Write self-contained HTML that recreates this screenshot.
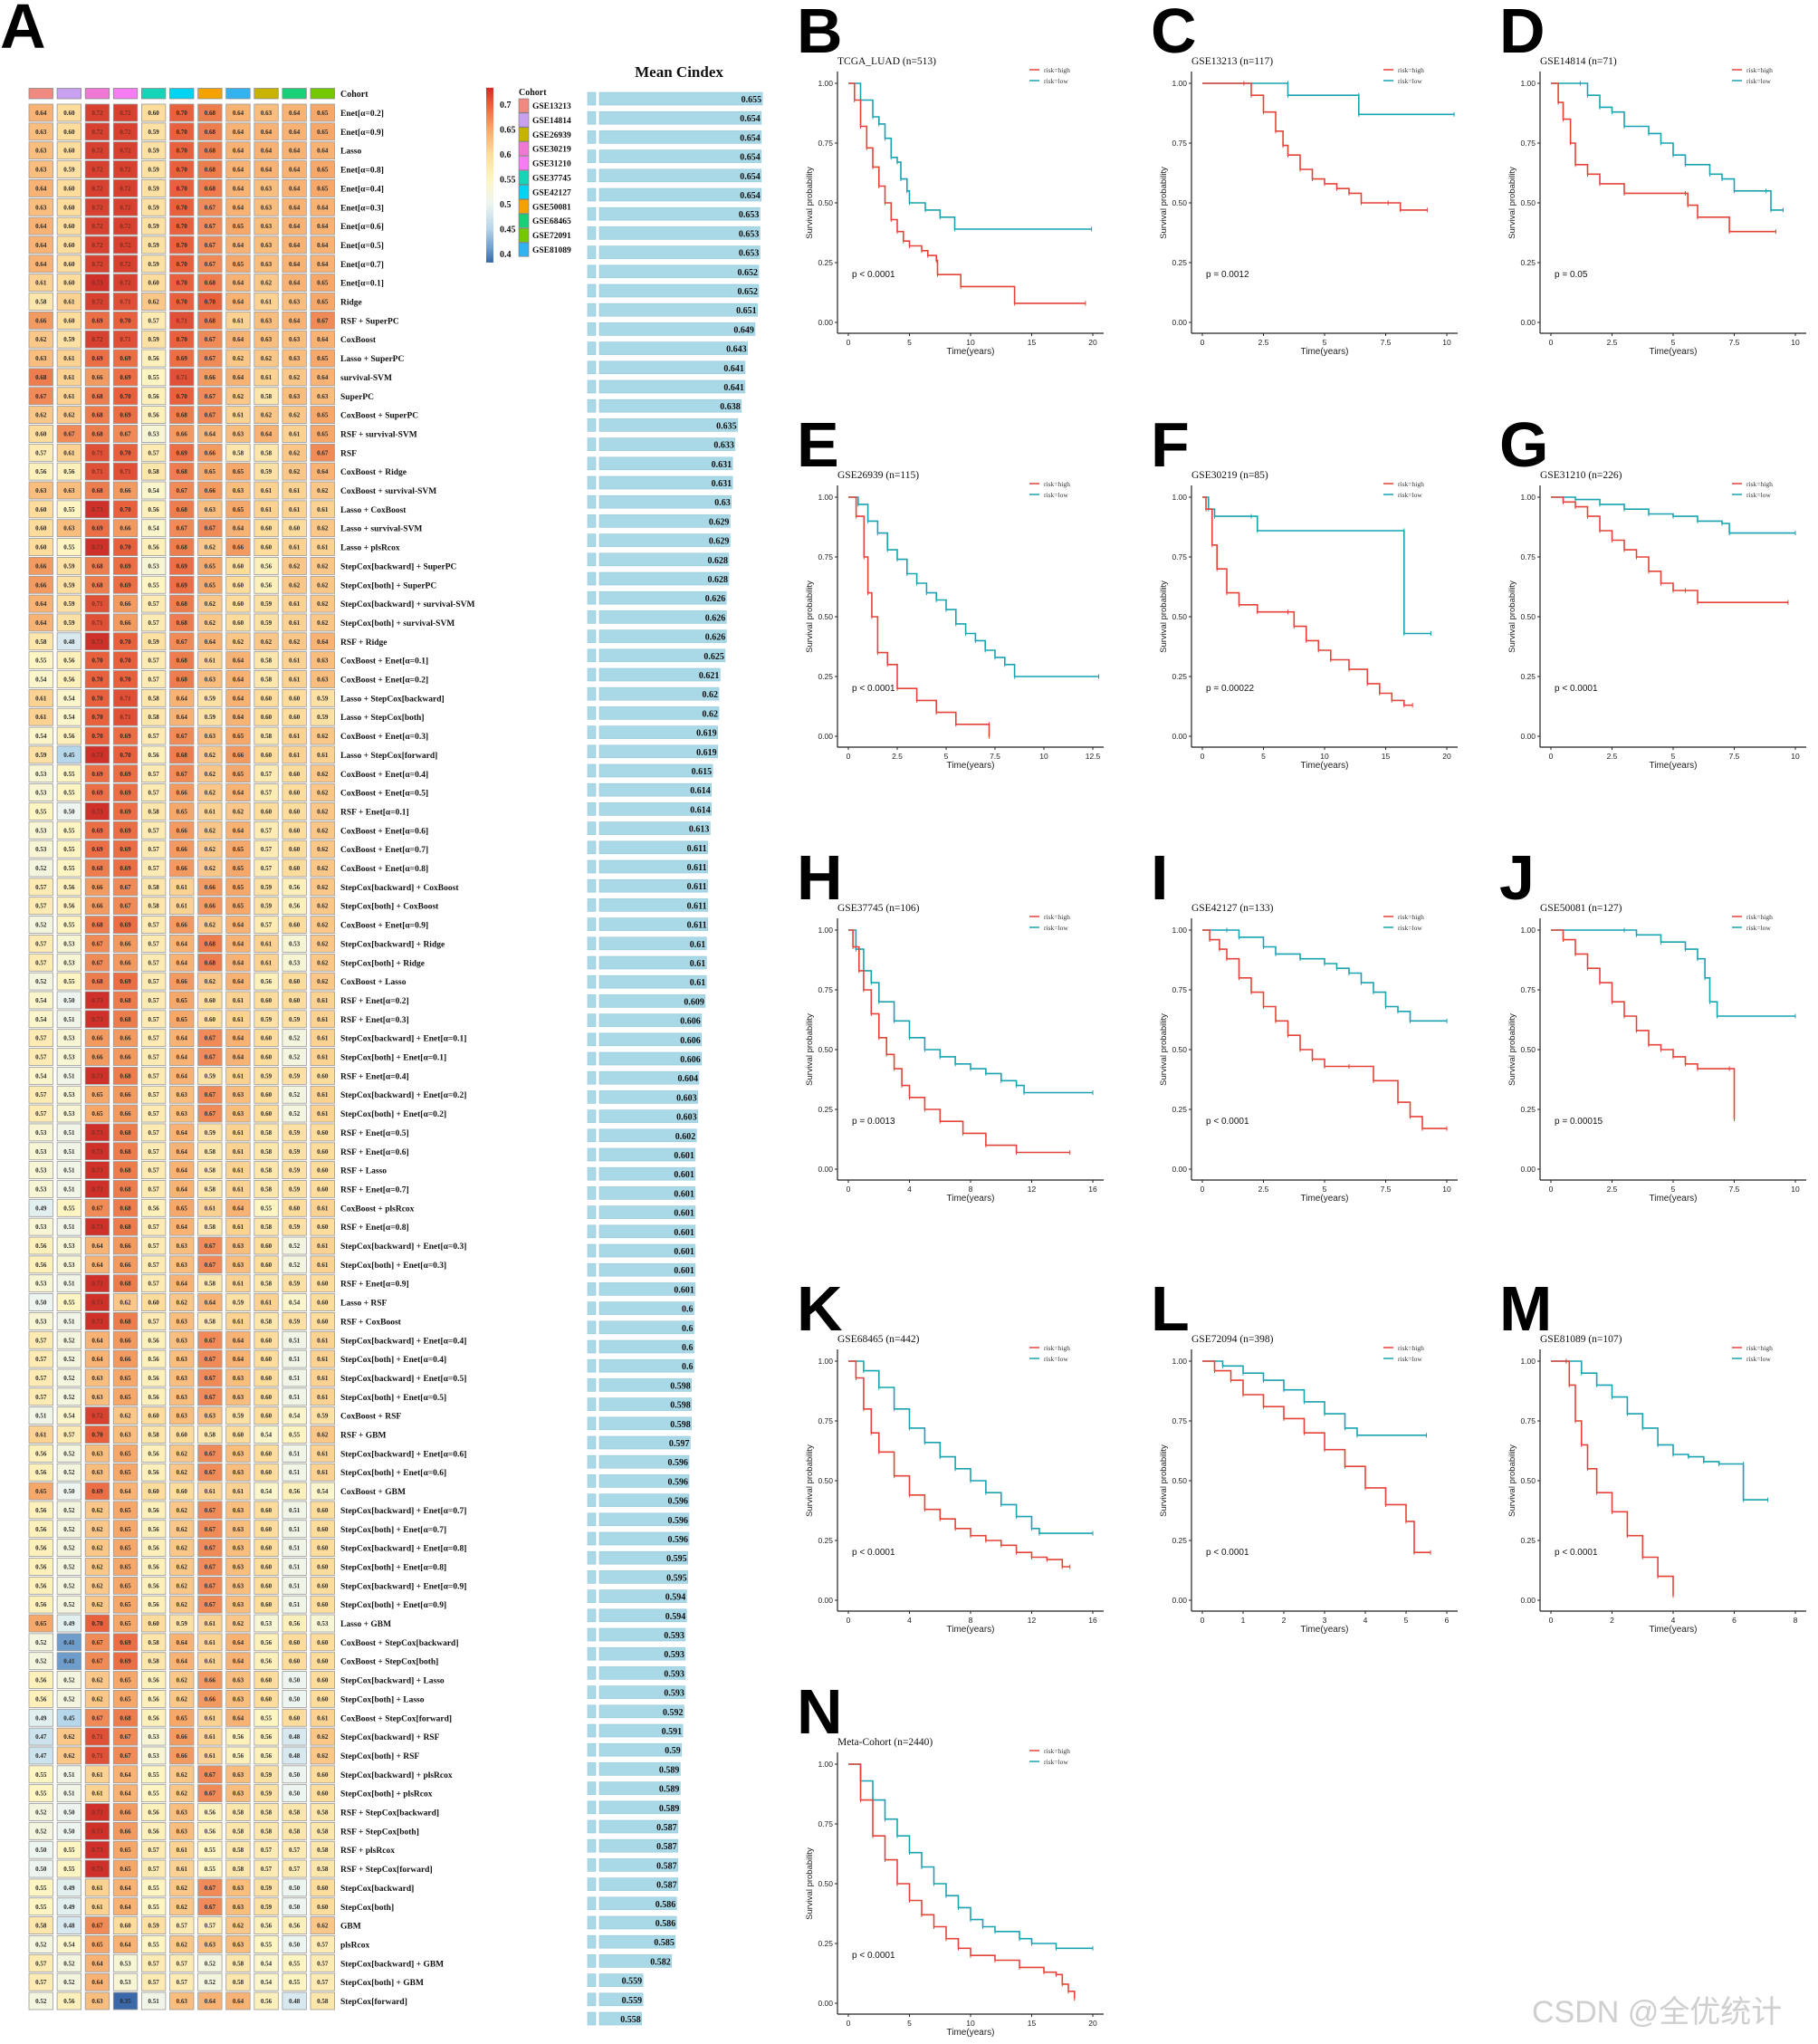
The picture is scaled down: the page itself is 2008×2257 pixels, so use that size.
<!DOCTYPE html>
<html><head><meta charset="utf-8"><title>Prognostic model figure</title>
<style>
html,body{margin:0;padding:0;background:#fff;}
svg{display:block;}
.serif{font-family:"Liberation Serif","Noto Serif CJK SC",serif;}
.sans{font-family:"Liberation Sans","Noto Sans CJK SC",sans-serif;}
</style></head>
<body>
<svg id="fig" xmlns="http://www.w3.org/2000/svg" width="2008" height="2257" viewBox="0 0 2008 2257">
<rect x="0" y="0" width="2008" height="2257" fill="#fff"/>
<text x="0" y="53" class="sans" font-size="70" font-weight="bold" fill="#000">A</text>
<text x="750" y="85" class="serif" font-size="17" font-weight="bold" text-anchor="middle" fill="#111">Mean Cindex</text>
<text x="1692" y="2233" class="sans" font-size="34" fill="#cfcfcf">CSDN @全优统计</text>
<g id="heat"></g>
<g id="legend"></g>
<g id="bars"></g>
<g id="km"></g>
</svg>
<script>
const rowLabels = ["Enet[α=0.2]","Enet[α=0.9]","Lasso","Enet[α=0.8]","Enet[α=0.4]","Enet[α=0.3]","Enet[α=0.6]","Enet[α=0.5]","Enet[α=0.7]","Enet[α=0.1]",
"Ridge","RSF + SuperPC","CoxBoost","Lasso + SuperPC","survival-SVM","SuperPC","CoxBoost + SuperPC","RSF + survival-SVM","RSF","CoxBoost + Ridge",
"CoxBoost + survival-SVM","Lasso + CoxBoost","Lasso + survival-SVM","Lasso + plsRcox","StepCox[backward] + SuperPC","StepCox[both] + SuperPC","StepCox[backward] + survival-SVM","StepCox[both] + survival-SVM","RSF + Ridge","CoxBoost + Enet[α=0.1]",
"CoxBoost + Enet[α=0.2]","Lasso + StepCox[backward]","Lasso + StepCox[both]","CoxBoost + Enet[α=0.3]","Lasso + StepCox[forward]","CoxBoost + Enet[α=0.4]","CoxBoost + Enet[α=0.5]","RSF + Enet[α=0.1]","CoxBoost + Enet[α=0.6]","CoxBoost + Enet[α=0.7]",
"CoxBoost + Enet[α=0.8]","StepCox[backward] + CoxBoost","StepCox[both] + CoxBoost","CoxBoost + Enet[α=0.9]","StepCox[backward] + Ridge","StepCox[both] + Ridge","CoxBoost + Lasso","RSF + Enet[α=0.2]","RSF + Enet[α=0.3]","StepCox[backward] + Enet[α=0.1]",
"StepCox[both] + Enet[α=0.1]","RSF + Enet[α=0.4]","StepCox[backward] + Enet[α=0.2]","StepCox[both] + Enet[α=0.2]","RSF + Enet[α=0.5]","RSF + Enet[α=0.6]","RSF + Lasso","RSF + Enet[α=0.7]","CoxBoost + plsRcox","RSF + Enet[α=0.8]",
"StepCox[backward] + Enet[α=0.3]","StepCox[both] + Enet[α=0.3]","RSF + Enet[α=0.9]","Lasso + RSF","RSF + CoxBoost","StepCox[backward] + Enet[α=0.4]","StepCox[both] + Enet[α=0.4]","StepCox[backward] + Enet[α=0.5]","StepCox[both] + Enet[α=0.5]","CoxBoost + RSF",
"RSF + GBM","StepCox[backward] + Enet[α=0.6]","StepCox[both] + Enet[α=0.6]","CoxBoost + GBM","StepCox[backward] + Enet[α=0.7]","StepCox[both] + Enet[α=0.7]","StepCox[backward] + Enet[α=0.8]","StepCox[both] + Enet[α=0.8]","StepCox[backward] + Enet[α=0.9]","StepCox[both] + Enet[α=0.9]",
"Lasso + GBM","CoxBoost + StepCox[backward]","CoxBoost + StepCox[both]","StepCox[backward] + Lasso","StepCox[both] + Lasso","CoxBoost + StepCox[forward]","StepCox[backward] + RSF","StepCox[both] + RSF","StepCox[backward] + plsRcox","StepCox[both] + plsRcox",
"RSF + StepCox[backward]","RSF + StepCox[both]","RSF + plsRcox","RSF + StepCox[forward]","StepCox[backward]","StepCox[both]","GBM","plsRcox","StepCox[backward] + GBM","StepCox[both] + GBM",
"StepCox[forward]"];
const cohortColumns = ["GSE13213","GSE14814","GSE30219","GSE31210","GSE37745","GSE42127","GSE50081","GSE81089","GSE26939","GSE68465","GSE72091"];
const cohortColumnColors = ["#f08a80","#c9a0f0","#f078d4","#f57cf2","#16d4b8","#00d4f2","#f4a200","#32b2f0","#c8b400","#18d078","#74c800"];
const legendCohorts = ["GSE13213","GSE14814","GSE26939","GSE30219","GSE31210","GSE37745","GSE42127","GSE50081","GSE68465","GSE72091","GSE81089"];
const legendColors = ["#f08a80","#c9a0f0","#c8b400","#f078d4","#f57cf2","#16d4b8","#00d4f2","#f4a200","#18d078","#74c800","#32b2f0"];
const colorbarTicks = [0.7,0.65,0.6,0.55,0.5,0.45,0.4];
const cindexMatrix = [
[.64,.60,.72,.72,.60,.70,.68,.64,.63,.64,.65],
[.63,.60,.72,.72,.59,.70,.68,.64,.64,.64,.65],
[.63,.60,.72,.72,.59,.70,.68,.64,.64,.64,.64],
[.63,.59,.72,.72,.59,.70,.68,.64,.64,.64,.65],
[.64,.60,.72,.72,.59,.70,.68,.64,.63,.64,.65],
[.63,.60,.72,.72,.59,.70,.67,.64,.63,.64,.64],
[.64,.60,.72,.72,.59,.70,.67,.65,.63,.64,.64],
[.64,.60,.72,.72,.59,.70,.67,.64,.63,.64,.64],
[.64,.60,.72,.72,.59,.70,.67,.65,.63,.64,.64],
[.61,.60,.73,.72,.60,.70,.68,.64,.62,.64,.65],
[.58,.61,.72,.71,.62,.70,.70,.64,.61,.63,.65],
[.66,.60,.69,.70,.57,.71,.68,.61,.63,.64,.67],
[.62,.59,.72,.71,.59,.70,.67,.64,.63,.63,.64],
[.63,.61,.69,.69,.56,.69,.67,.62,.62,.63,.65],
[.68,.61,.66,.69,.55,.71,.66,.64,.61,.62,.64],
[.67,.61,.68,.70,.56,.70,.67,.62,.58,.63,.63],
[.62,.62,.68,.69,.56,.68,.67,.61,.62,.62,.65],
[.60,.67,.68,.67,.53,.66,.64,.63,.64,.61,.65],
[.57,.61,.71,.70,.57,.69,.66,.58,.58,.62,.67],
[.56,.56,.71,.71,.58,.68,.65,.65,.59,.62,.64],
[.63,.63,.68,.66,.54,.67,.66,.63,.61,.61,.62],
[.60,.55,.73,.70,.56,.68,.63,.65,.61,.61,.61],
[.60,.63,.69,.66,.54,.67,.67,.64,.60,.60,.62],
[.60,.55,.73,.70,.56,.68,.62,.66,.60,.61,.61],
[.66,.59,.68,.69,.53,.69,.65,.60,.56,.62,.62],
[.66,.59,.68,.69,.55,.69,.65,.60,.56,.62,.62],
[.64,.59,.71,.66,.57,.68,.62,.60,.59,.61,.62],
[.64,.59,.71,.66,.57,.68,.62,.60,.59,.61,.62],
[.58,.48,.73,.70,.59,.67,.64,.62,.62,.62,.64],
[.55,.56,.70,.70,.57,.68,.61,.64,.58,.61,.63],
[.54,.56,.70,.70,.57,.68,.63,.64,.58,.61,.63],
[.61,.54,.70,.71,.58,.64,.59,.64,.60,.60,.59],
[.61,.54,.70,.71,.58,.64,.59,.64,.60,.60,.59],
[.54,.56,.70,.69,.57,.67,.63,.65,.58,.61,.62],
[.59,.45,.73,.70,.56,.68,.62,.66,.60,.61,.61],
[.53,.55,.69,.69,.57,.67,.62,.65,.57,.60,.62],
[.53,.55,.69,.69,.57,.66,.62,.64,.57,.60,.62],
[.55,.50,.73,.69,.58,.65,.61,.62,.60,.60,.62],
[.53,.55,.69,.69,.57,.66,.62,.64,.57,.60,.62],
[.53,.55,.69,.69,.57,.66,.62,.65,.57,.60,.62],
[.52,.55,.68,.69,.57,.66,.62,.65,.57,.60,.62],
[.57,.56,.66,.67,.58,.61,.66,.65,.59,.56,.62],
[.57,.56,.66,.67,.58,.61,.66,.65,.59,.56,.62],
[.52,.55,.68,.69,.57,.66,.62,.64,.57,.60,.62],
[.57,.53,.67,.66,.57,.64,.68,.64,.61,.53,.62],
[.57,.53,.67,.66,.57,.64,.68,.64,.61,.53,.62],
[.52,.55,.68,.69,.57,.66,.62,.64,.56,.60,.62],
[.54,.50,.73,.68,.57,.65,.60,.61,.60,.60,.61],
[.54,.51,.73,.68,.57,.65,.60,.61,.59,.59,.61],
[.57,.53,.66,.66,.57,.64,.67,.64,.60,.52,.61],
[.57,.53,.66,.66,.57,.64,.67,.64,.60,.52,.61],
[.54,.51,.73,.68,.57,.64,.59,.61,.59,.59,.60],
[.57,.53,.65,.66,.57,.63,.67,.63,.60,.52,.61],
[.57,.53,.65,.66,.57,.63,.67,.63,.60,.52,.61],
[.53,.51,.73,.68,.57,.64,.59,.61,.58,.59,.60],
[.53,.51,.73,.68,.57,.64,.58,.61,.58,.59,.60],
[.53,.51,.73,.68,.57,.64,.58,.61,.58,.59,.60],
[.53,.51,.73,.68,.57,.64,.58,.61,.58,.59,.60],
[.49,.55,.67,.68,.56,.65,.61,.64,.55,.60,.61],
[.53,.51,.73,.68,.57,.64,.58,.61,.58,.59,.60],
[.56,.53,.64,.66,.57,.63,.67,.63,.60,.52,.61],
[.56,.53,.64,.66,.57,.63,.67,.63,.60,.52,.61],
[.53,.51,.73,.68,.57,.64,.58,.61,.58,.59,.60],
[.50,.55,.73,.62,.60,.62,.64,.59,.61,.54,.60],
[.53,.51,.73,.68,.57,.63,.58,.61,.58,.59,.60],
[.57,.52,.64,.66,.56,.63,.67,.64,.60,.51,.61],
[.57,.52,.64,.66,.56,.63,.67,.64,.60,.51,.61],
[.57,.52,.63,.65,.56,.63,.67,.63,.60,.51,.61],
[.57,.52,.63,.65,.56,.63,.67,.63,.60,.51,.61],
[.51,.54,.72,.62,.60,.63,.63,.59,.60,.54,.59],
[.61,.57,.70,.63,.58,.60,.58,.60,.54,.55,.62],
[.56,.52,.63,.65,.56,.62,.67,.63,.60,.51,.61],
[.56,.52,.63,.65,.56,.62,.67,.63,.60,.51,.61],
[.65,.50,.69,.64,.60,.60,.61,.61,.54,.56,.54],
[.56,.52,.62,.65,.56,.62,.67,.63,.60,.51,.60],
[.56,.52,.62,.65,.56,.62,.67,.63,.60,.51,.60],
[.56,.52,.62,.65,.56,.62,.67,.63,.60,.51,.60],
[.56,.52,.62,.65,.56,.62,.67,.63,.60,.51,.60],
[.56,.52,.62,.65,.56,.62,.67,.63,.60,.51,.60],
[.56,.52,.62,.65,.56,.62,.67,.63,.60,.51,.60],
[.65,.49,.70,.65,.60,.59,.61,.62,.53,.56,.53],
[.52,.41,.67,.69,.58,.64,.61,.64,.56,.60,.60],
[.52,.41,.67,.69,.58,.64,.61,.64,.56,.60,.60],
[.56,.52,.62,.65,.56,.62,.66,.63,.60,.50,.60],
[.56,.52,.62,.65,.56,.62,.66,.63,.60,.50,.60],
[.49,.45,.67,.68,.56,.65,.61,.64,.55,.60,.61],
[.47,.62,.71,.67,.53,.66,.61,.56,.56,.48,.62],
[.47,.62,.71,.67,.53,.66,.61,.56,.56,.48,.62],
[.55,.51,.61,.64,.55,.62,.67,.63,.59,.50,.60],
[.55,.51,.61,.64,.55,.62,.67,.63,.59,.50,.60],
[.52,.50,.73,.66,.56,.63,.56,.58,.58,.58,.58],
[.52,.50,.73,.66,.56,.63,.56,.58,.58,.58,.58],
[.50,.55,.73,.65,.57,.61,.55,.58,.57,.57,.58],
[.50,.55,.73,.65,.57,.61,.55,.58,.57,.57,.58],
[.55,.49,.61,.64,.55,.62,.67,.63,.59,.50,.60],
[.55,.49,.61,.64,.55,.62,.67,.63,.59,.50,.60],
[.58,.48,.67,.60,.59,.57,.57,.62,.56,.56,.62],
[.52,.54,.65,.64,.55,.62,.63,.63,.55,.50,.57],
[.57,.52,.64,.53,.57,.57,.52,.58,.54,.55,.57],
[.57,.52,.64,.53,.57,.57,.52,.58,.54,.55,.57],
[.52,.56,.63,.35,.51,.63,.64,.64,.56,.48,.58]];
const meanCindex = [.655,.654,.654,.654,.654,.654,.653,.653,.653,.652,
.652,.651,.649,.643,.641,.641,.638,.635,.633,.631,
.631,.630,.629,.629,.628,.628,.626,.626,.626,.625,
.621,.620,.620,.619,.619,.615,.614,.614,.613,.611,
.611,.611,.611,.611,.610,.610,.610,.609,.606,.606,
.606,.604,.603,.603,.602,.601,.601,.601,.601,.601,
.601,.601,.601,.600,.600,.600,.600,.598,.598,.598,
.597,.596,.596,.596,.596,.596,.595,.595,.594,.594,
.593,.593,.593,.593,.592,.591,.590,.589,.589,.589,
.587,.587,.587,.587,.586,.586,.585,.582,.559,.559,.558];
const meanCindexLabels = meanCindex.map(v => String(+v.toFixed(3)));

// Kaplan-Meier data: [time, survival]
const kmB_high = [[0,1],[0.5,0.93],[1,0.82],[1.5,0.73],[2,0.65],[2.5,0.57],[3,0.5],[3.5,0.43],[4,0.38],[4.5,0.34],[5,0.32],[6,0.3],[6.5,0.28],[7.2,0.26],[7.3,0.2],[9.2,0.15],[13.6,0.08],[19.4,0.08]];
const kmB_low = [[0,1],[1,0.93],[2,0.86],[2.5,0.83],[3,0.77],[3.5,0.69],[4,0.67],[4.3,0.6],[4.8,0.55],[5,0.5],[6.3,0.47],[7.5,0.44],[8.7,0.39],[19.9,0.39]];
const kmC_high = [[0,1],[1.7,1],[2,0.95],[2.5,0.88],[3,0.8],[3.3,0.74],[3.5,0.7],[4,0.64],[4.5,0.6],[5,0.58],[5.5,0.56],[6,0.54],[6.5,0.5],[7.6,0.5],[8.1,0.47],[9.2,0.47]];
const kmC_low = [[0,1],[3.5,1],[3.5,0.95],[6.4,0.95],[6.4,0.87],[10.3,0.87]];
const kmD_high = [[0,1],[0.3,0.92],[0.5,0.85],[0.8,0.75],[1,0.66],[1.5,0.62],[2,0.58],[3,0.54],[5.5,0.54],[5.6,0.49],[6,0.44],[7.3,0.38],[9.2,0.38]];
const kmD_low = [[0,1],[1.2,1],[1.5,0.95],[2,0.9],[2.5,0.88],[3,0.82],[4,0.79],[4.5,0.75],[5,0.7],[5.5,0.66],[6.5,0.62],[7,0.6],[7.5,0.55],[8.8,0.55],[9,0.47],[9.5,0.47]];
const kmE_high = [[0,1],[0.4,0.92],[0.8,0.75],[1,0.6],[1.2,0.5],[1.5,0.35],[2,0.3],[2.5,0.2],[3.5,0.15],[4.5,0.1],[5.5,0.05],[7.2,0.05],[7.2,0]];
const kmE_low = [[0,1],[0.5,0.97],[1,0.9],[1.5,0.85],[2,0.78],[2.5,0.74],[3,0.68],[3.5,0.64],[4,0.6],[4.5,0.57],[5,0.53],[5.5,0.47],[6,0.43],[6.5,0.4],[7,0.36],[7.5,0.33],[8,0.3],[8.5,0.25],[12.8,0.25]];
const kmF_high = [[0,1],[0.3,0.95],[0.8,0.8],[1.2,0.7],[2,0.6],[3,0.55],[4.5,0.52],[7,0.52],[7.5,0.46],[8.5,0.4],[9.5,0.36],[10.5,0.32],[12,0.28],[13.5,0.22],[14.5,0.18],[15.5,0.15],[16.5,0.13],[17.2,0.13]];
const kmF_low = [[0,1],[0.5,0.95],[1,0.92],[4,0.92],[4.5,0.86],[16.5,0.86],[16.5,0.43],[18.7,0.43]];
const kmG_high = [[0,1],[0.5,0.98],[1,0.96],[1.5,0.92],[2,0.86],[2.5,0.82],[3,0.78],[3.5,0.75],[4,0.69],[4.5,0.64],[5,0.61],[5.5,0.61],[6,0.56],[9.7,0.56]];
const kmG_low = [[0,1],[1,0.99],[2,0.97],[3,0.95],[4,0.93],[5,0.92],[6,0.9],[7,0.89],[7.3,0.85],[10,0.85]];
const kmH_high = [[0,1],[0.3,0.93],[0.7,0.83],[1,0.75],[1.5,0.65],[2,0.55],[2.5,0.48],[3,0.42],[3.5,0.35],[4,0.3],[5,0.25],[6,0.2],[7.5,0.15],[9,0.1],[11,0.07],[14.5,0.07]];
const kmH_low = [[0,1],[0.5,0.92],[1,0.83],[1.5,0.78],[2,0.7],[3,0.62],[4,0.55],[5,0.5],[6,0.47],[7,0.44],[8,0.42],[9,0.4],[10,0.37],[11,0.35],[11.5,0.32],[16,0.32]];
const kmI_high = [[0,1],[0.3,0.96],[0.7,0.92],[1,0.88],[1.5,0.8],[2,0.74],[2.5,0.68],[3,0.62],[3.5,0.56],[4,0.5],[4.5,0.46],[5,0.43],[6,0.43],[7,0.37],[8,0.28],[8.5,0.22],[9,0.17],[10,0.17]];
const kmI_low = [[0,1],[1,1],[1.5,0.97],[2.5,0.93],[3,0.9],[4,0.88],[5,0.86],[5.5,0.84],[6,0.82],[6.5,0.78],[7,0.74],[7.5,0.68],[8,0.66],[8.5,0.62],[10,0.62]];
const kmJ_high = [[0,1],[0.5,0.96],[1,0.9],[1.5,0.84],[2,0.78],[2.5,0.7],[3,0.64],[3.5,0.58],[4,0.52],[4.5,0.5],[5,0.47],[5.5,0.44],[6,0.42],[7.3,0.42],[7.5,0.21]];
const kmJ_low = [[0,1],[3,1],[3.5,0.98],[4.5,0.95],[5.5,0.92],[6,0.88],[6.3,0.8],[6.5,0.7],[6.8,0.64],[10,0.64]];
const kmK_high = [[0,1],[0.5,0.93],[1,0.8],[1.5,0.7],[2,0.62],[3,0.52],[4,0.44],[5,0.38],[6,0.34],[7,0.3],[8,0.27],[9,0.25],[10,0.23],[11,0.2],[12,0.18],[13,0.17],[14,0.14],[14.5,0.14]];
const kmK_low = [[0,1],[1,0.96],[2,0.89],[3,0.8],[4,0.72],[5,0.66],[6,0.6],[7,0.55],[8,0.5],[9,0.45],[10,0.4],[11,0.35],[12,0.3],[12.5,0.28],[16,0.28]];
const kmL_high = [[0,1],[0.3,0.96],[0.7,0.92],[1,0.86],[1.5,0.81],[2,0.76],[2.5,0.7],[3,0.63],[3.5,0.56],[4,0.47],[4.5,0.4],[5,0.33],[5.2,0.2],[5.6,0.2]];
const kmL_low = [[0,1],[0.5,0.98],[1,0.95],[1.5,0.92],[2,0.88],[2.5,0.83],[3,0.78],[3.5,0.72],[3.8,0.69],[5.5,0.69]];
const kmM_high = [[0,1],[0.5,1],[0.6,0.9],[0.8,0.75],[1,0.65],[1.2,0.55],[1.5,0.45],[2,0.37],[2.5,0.27],[3,0.18],[3.5,0.1],[4,0.02]];
const kmM_low = [[0,1],[0.5,1],[1,0.95],[1.5,0.9],[2,0.85],[2.5,0.78],[3,0.72],[3.5,0.65],[4,0.61],[4.5,0.6],[5,0.58],[5.5,0.57],[6.3,0.57],[6.3,0.42],[7.1,0.42]];
const kmN_high = [[0,1],[1,0.85],[2,0.7],[3,0.6],[4,0.5],[5,0.43],[6,0.37],[7,0.32],[8,0.27],[9,0.23],[10,0.2],[12,0.18],[14,0.15],[16,0.13],[17,0.12],[17.5,0.08],[18,0.05],[18.5,0.02]];
const kmN_low = [[0,1],[1,0.93],[2,0.85],[3,0.77],[4,0.7],[5,0.63],[6,0.57],[7,0.5],[8,0.45],[9,0.4],[10,0.35],[11,0.32],[12,0.3],[14,0.27],[15,0.25],[17,0.23],[20,0.23]];

const kmLetters = ["B","C","D","E","F","G","H","I","J","K","L","M","N"];
const kmTitles = ["TCGA_LUAD (n=513)","GSE13213 (n=117)","GSE14814 (n=71)","GSE26939 (n=115)","GSE30219 (n=85)","GSE31210 (n=226)","GSE37745 (n=106)","GSE42127 (n=133)","GSE50081 (n=127)","GSE68465 (n=442)","GSE72094 (n=398)","GSE81089 (n=107)","Meta-Cohort (n=2440)"];
const kmPvalues = ["p < 0.0001","p = 0.0012","p = 0.05","p < 0.0001","p = 0.00022","p < 0.0001","p = 0.0013","p < 0.0001","p = 0.00015","p < 0.0001","p < 0.0001","p < 0.0001","p < 0.0001"];
const kmXmax = [20,10,10,12.5,20,10,16,10,10,16,6,8,20];
const kmXticks = [[0,5,10,15,20],[0,2.5,5,7.5,10],[0,2.5,5,7.5,10],[0,2.5,5,7.5,10,12.5],[0,5,10,15,20],[0,2.5,5,7.5,10],[0,4,8,12,16],[0,2.5,5,7.5,10],[0,2.5,5,7.5,10],[0,4,8,12,16],[0,1,2,3,4,5,6],[0,2,4,6,8],[0,5,10,15,20]];
const kmHigh = [kmB_high,kmC_high,kmD_high,kmE_high,kmF_high,kmG_high,kmH_high,kmI_high,kmJ_high,kmK_high,kmL_high,kmM_high,kmN_high];
const kmLow = [kmB_low,kmC_low,kmD_low,kmE_low,kmF_low,kmG_low,kmH_low,kmI_low,kmJ_low,kmK_low,kmL_low,kmM_low,kmN_low];
const yTicks = [0,0.25,0.5,0.75,1];
const yTickLabels = ["0.00","0.25","0.50","0.75","1.00"];

const NS = "http://www.w3.org/2000/svg";
function mk(tag, attrs, parent){ const e=document.createElementNS(NS,tag); for(const k in attrs){ e.setAttribute(k, attrs[k]); } parent.appendChild(e); return e; }
function hex2rgb(h){ return [parseInt(h.slice(1,3),16),parseInt(h.slice(3,5),16),parseInt(h.slice(5,7),16)]; }
const colorStops = [[0.35,"#3a68a8"],[0.41,"#6e9ccb"],[0.45,"#b6d6ea"],[0.5,"#edf5f0"],[0.55,"#fef5c2"],[0.6,"#fddc9c"],[0.65,"#f6a86a"],[0.7,"#e8603c"],[0.73,"#d0302a"]];
function heatColor(v){
  if(v<=colorStops[0][0]) return colorStops[0][1];
  for(let i=1;i<colorStops.length;i++){
    if(v<=colorStops[i][0]){
      const a=colorStops[i-1], b=colorStops[i]; const t=(v-a[0])/(b[0]-a[0]);
      const ca=hex2rgb(a[1]), cb=hex2rgb(b[1]);
      return "rgb("+ca.map((c,j)=>Math.round(c+(cb[j]-c)*t)).join(",")+")";
    }
  }
  return colorStops[colorStops.length-1][1];
}

// ---------- Heatmap ----------
const heat = document.getElementById("heat");
const colX = c => 32 + c*31.1;
const rowY = r => 124.5 + r*20.85;
const cellW = 26.5, cellH = 19;
cohortColumns.forEach((name,c)=>{
  const r = mk("rect",{x:colX(c),y:97.5,width:cellW,height:11.5,fill:cohortColumnColors[c],stroke:"#888","stroke-width":0.8},heat);
  
  
});
const cohortHdr = mk("text",{x:376,y:107,"font-size":10,"font-weight":"bold",class:"serif",fill:"#111"},heat);
cohortHdr.textContent = "Cohort";


cindexMatrix.forEach((row,r)=>{
  row.forEach((v,c)=>{
    const cell = mk("rect",{x:colX(c),y:rowY(r)-cellH/2,width:cellW,height:cellH,fill:heatColor(v),stroke:"#999","stroke-width":0.8},heat);
    
    
    const t = mk("text",{x:colX(c)+cellW/2,y:rowY(r)+2.5,"font-size":7,"font-weight":"bold","text-anchor":"middle",class:"serif",fill:v>=0.71?"#7a3020":"#2a2a2a"},heat);
    t.textContent = v.toFixed(2);
    
    
  });
  const lab = mk("text",{x:376,y:rowY(r)+3.5,"font-size":9.5,"font-weight":"bold",class:"serif",fill:"#111"},heat);
  lab.textContent = rowLabels[r];
  
  
});

// ---------- Legend ----------
const legend = document.getElementById("legend");
const defs = mk("defs",{},legend);
const grad = mk("linearGradient",{id:"cbar",x1:0,y1:1,x2:0,y2:0},defs);
const cbMin=0.382, cbMax=0.733;
colorStops.forEach(s=>{ mk("stop",{offset:Math.max(0,(s[0]-cbMin)/(cbMax-cbMin)),"stop-color":s[1]},grad); });
const cbY = v => 115 + (0.7 - v)*550;
const cb = mk("rect",{x:537,y:cbY(cbMax),width:8,height:cbY(cbMin)-cbY(cbMax),fill:"url(#cbar)"},legend);


colorbarTicks.forEach(v=>{
  const t = mk("text",{x:552,y:cbY(v)+4,"font-size":10,"font-weight":"bold",class:"serif",fill:"#111"},legend);
  t.textContent = String(v);
  
  
});
const lt = mk("text",{x:573,y:105,"font-size":10,"font-weight":"bold",class:"serif",fill:"#111"},legend);
lt.textContent = "Cohort";


legendCohorts.forEach((name,i)=>{
  const y = 109 + i*15.9;
  const sw = mk("rect",{x:573,y:y,width:11,height:15.2,fill:legendColors[i],stroke:"#777","stroke-width":0.6},legend);
  
  
  const t = mk("text",{x:588,y:y+11,"font-size":9.5,"font-weight":"bold",class:"serif",fill:"#111"},legend);
  t.textContent = name;
  
  
});

// ---------- Mean C-index bars ----------
const bars = document.getElementById("bars");
const barBase = 662, barV0 = 0.524, barScale = 1375;
const barLen = v => (v - barV0)*barScale;
const barY = r => 109 + r*21.2;
meanCindex.forEach((v,r)=>{
  const sm = mk("rect",{x:649,y:barY(r)-7,width:9,height:14,fill:"#a9d8e7",stroke:"#93c8da","stroke-width":0.6},bars);
  
  
  const b = mk("rect",{x:barBase,y:barY(r)-7,width:barLen(v),height:14,fill:"#a9d8e7",stroke:"#93c8da","stroke-width":0.6},bars);
  
  
  const t = mk("text",{x:barBase+barLen(v)-1,y:barY(r)+4,"font-size":10,"font-weight":"bold","text-anchor":"end",class:"serif",fill:"#111"},bars);
  t.textContent = meanCindexLabels[r];
  
  
});

// ---------- KM panels ----------
const km = document.getElementById("km");
const colAxis = [925,1316,1701];
const rowOff = [0,457,935,1411,1856];
const RED = "#e4433a", TEAL = "#19a3b1";
function stepPath(pts, xs, ys){
  let d = "M"+xs(pts[0][0]).toFixed(1)+","+ys(pts[0][1]).toFixed(1);
  for(let i=1;i<pts.length;i++){ d += " H"+xs(pts[i][0]).toFixed(1)+" V"+ys(pts[i][1]).toFixed(1); }
  return d;
}
kmLetters.forEach((L,i)=>{
  const ax = colAxis[i%3], oy = rowOff[Math.floor(i/3)];
  const g = mk("g",{},km);
  
  
  const x0 = ax+12, W = 270, xmax = kmXmax[i];
  const xs = t => x0 + t/xmax*W;
  const ys = s => oy + 356 - s*264;
  const letter = mk("text",{x:ax-45,y:oy+58,"font-size":70,"font-weight":"bold",class:"sans",fill:"#000"},g);
  letter.textContent = L;
  
  
  const title = mk("text",{x:ax,y:oy+71,"font-size":11.5,class:"serif",fill:"#111"},g);
  title.textContent = kmTitles[i];
  
  
  const yaxis = mk("line",{x1:ax,y1:oy+79,x2:ax,y2:oy+368,stroke:"#222","stroke-width":1.2},g);
  
  
  const xaxis = mk("line",{x1:ax,y1:oy+368,x2:x0+W+12,y2:oy+368,stroke:"#222","stroke-width":1.2},g);
  
  
  yTicks.forEach((v,k)=>{
    const tk = mk("line",{x1:ax-3,y1:ys(v),x2:ax,y2:ys(v),stroke:"#222","stroke-width":1},g);
    
    
    const tl = mk("text",{x:ax-5,y:ys(v)+3,"font-size":8.5,"text-anchor":"end",class:"sans",fill:"#222"},g);
    tl.textContent = yTickLabels[k];
    
    
  });
  kmXticks[i].forEach(v=>{
    const tk = mk("line",{x1:xs(v),y1:oy+368,x2:xs(v),y2:oy+371,stroke:"#222","stroke-width":1},g);
    
    
    const tl = mk("text",{x:xs(v),y:oy+381,"font-size":8.5,"text-anchor":"middle",class:"sans",fill:"#222"},g);
    tl.textContent = String(v);
    
    
  });
  const yl = mk("text",{x:0,y:0,"font-size":9.5,"text-anchor":"middle",class:"sans",fill:"#222",transform:"translate("+(ax-28)+","+(oy+224)+") rotate(-90)"},g);
  yl.textContent = "Survival probability";
  
  
  const xl = mk("text",{x:x0+W/2,y:oy+391,"font-size":10,"text-anchor":"middle",class:"sans",fill:"#222"},g);
  xl.textContent = "Time(years)";
  
  
  [[kmLow[i],TEAL,"risk-low-curve"],[kmHigh[i],RED,"risk-high-curve"]].forEach(([pts,col,nm])=>{
    const p = mk("path",{d:stepPath(pts,xs,ys),fill:"none",stroke:col,"stroke-width":1.6},g);
    
    
    pts.forEach((pt,k)=>{
      if(k===0) return;
      const cx = xs(pt[0]), cy = ys(pt[1]);
      const cm = mk("line",{x1:cx,y1:cy-2.5,x2:cx,y2:cy+2.5,stroke:col,"stroke-width":1},g);
      
      
    });
  });
  const pv = mk("text",{x:ax+16,y:oy+306,"font-size":10,class:"sans",fill:"#111"},g);
  pv.textContent = kmPvalues[i];
  
  
  [["risk=high",RED,77],["risk=low",TEAL,89]].forEach(([txt,col,dy])=>{
    const ll = mk("line",{x1:ax+212,y1:oy+dy,x2:ax+223,y2:oy+dy,stroke:col,"stroke-width":1.5},g);
    
    
    const lt2 = mk("text",{x:ax+228,y:oy+dy+3,"font-size":7.5,class:"serif",fill:"#333"},g);
    lt2.textContent = txt;
    
    
  });
});
</script>
</body></html>
